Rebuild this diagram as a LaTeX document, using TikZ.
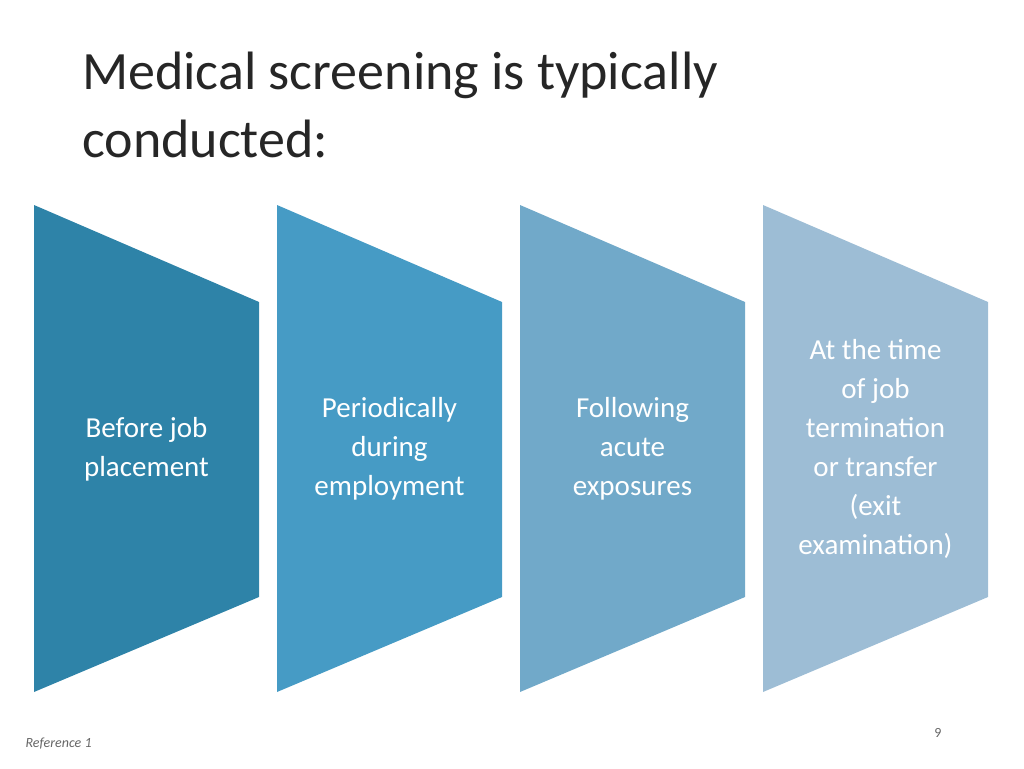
\documentclass[tikz,border=0pt]{standalone}
\usepackage{fontspec}
\setmainfont{Carlito}
\begin{document}
\begin{tikzpicture}[x=1pt,y=-1pt,
  chev/.style={draw=none},
  lbl/.style={text=white,align=center,font=\fontsize{29}{39}\selectfont}]
\useasboundingbox (0,0) rectangle (1024,768);
\definecolor{c1}{HTML}{2E83A8}
\definecolor{c2}{HTML}{469BC5}
\definecolor{c3}{HTML}{71A9C9}
\definecolor{c4}{HTML}{9DBDD5}
\node[anchor=north west,align=left,font=\fontsize{54}{68}\selectfont,text=black!85,inner sep=0] (title) at (82,52) {Medical screening is typically\\conducted:};
\foreach \i/\x/\c in {1/34/c1,2/277/c2,3/520/c3,4/763/c4}{
  \fill[\c] (\x,205) -- (\x+225,302) -- (\x+225,597) -- (\x,692) -- cycle;
}
\node[lbl] (a) at (146.5,449) {Before job\\placement};
\node[lbl] (b) at (389.5,449) {Periodically\\during\\employment};
\node[lbl] (c) at (632.5,449) {Following\\acute\\exposures};
\node[lbl] (d) at (875.5,449) {At the time\\of job\\termination\\or transfer\\(exit\\examination)};
\node[font=\fontsize{14}{16}\selectfont\itshape,text=black!60,anchor=west] (ref) at (22,744) {Reference 1};
\node[font=\fontsize{14}{16}\selectfont,text=black!60] (pg) at (938,733) {9};
\end{tikzpicture}
\end{document}
